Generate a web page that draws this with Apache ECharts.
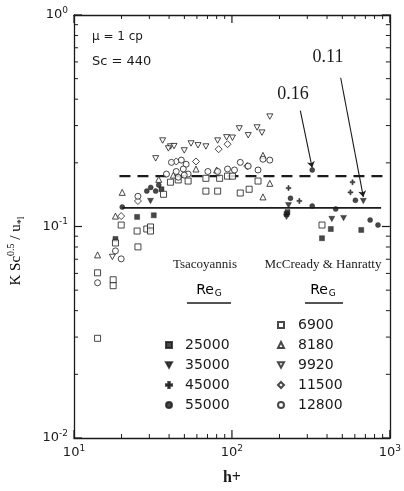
<!DOCTYPE html>
<html><head><meta charset="utf-8">
<script src="https://cdn.jsdelivr.net/npm/echarts@6/dist/echarts.min.js"></script>
<style>html,body{margin:0;padding:0;background:#fff}#c{width:404px;height:491px}</style>
</head><body><div id="c"></div>
<script>
// ---- data (h+, K Sc^0.5 / u*l) ----
const ts25000 = [[221.7,0.1145],[224.8,0.117],[371.7,0.088],[422.8,0.0973],[659,0.0963],[18.3,0.0873],[25.1,0.111],[32.0,0.113],[35.8,0.150]];
const ts35000 = [[228.2,0.126],[221.7,0.111],[428.9,0.1085],[509,0.1096],[679,0.132],[30.5,0.132]];
const ts45000 = [[228.2,0.152],[267.3,0.132],[580,0.162],[563,0.145]];
const ts55000 = [[234.8,0.136],[322.3,0.185],[322.3,0.125],[454,0.121],[605,0.133],[750,0.1073],[841,0.1016],[20.2,0.1235],[28.9,0.147],[30.6,0.153],[32.9,0.147],[34.4,0.157]];

const mh6900 = [[14.1,0.0604],[17.7,0.056],[17.7,0.0525],[14.1,0.0296],[18.3,0.0836],[19.9,0.1016],[25.1,0.0952],[28.9,0.0973],[25.4,0.0801],[30.5,0.0995],[30.5,0.0952],[36.9,0.142],[68.4,0.169],[83.6,0.169],[68.4,0.147],[81.2,0.147],[93.8,0.173],[100.8,0.173],[146.3,0.164],[112.9,0.144],[128.5,0.150],[371.7,0.1016],[45.7,0.166],[40.8,0.162],[52.8,0.164]];
const mh8180 = [[14.1,0.0734],[18.3,0.112],[20.2,0.145],[59.2,0.187],[157.2,0.217],[173.7,0.160],[157.2,0.138],[80,0.185],[34.4,0.167],[42.6,0.175]];
const mh9920 = [[17.5,0.0718],[36.4,0.255],[32.9,0.210],[40.8,0.239],[39.6,0.234],[43,0.240],[49.9,0.229],[55.1,0.247],[61.0,0.242],[68.4,0.239],[81.2,0.255],[92.5,0.264],[100.8,0.263],[111.3,0.291],[126.8,0.270],[144.2,0.294],[154.9,0.278],[173.7,0.331]];
const mh11500 = [[19.9,0.112],[25.4,0.132],[44.4,0.203],[59.2,0.203],[82.4,0.232],[125,0.193],[93.8,0.245]];
const mh12800 = [[14.1,0.0542],[18.3,0.0767],[19.9,0.0703],[25.4,0.139],[41.4,0.201],[47.8,0.206],[51.3,0.197],[49.2,0.187],[70.4,0.182],[81.2,0.182],[93.8,0.187],[103.8,0.185],[112.9,0.201],[126.8,0.193],[146.3,0.185],[157.2,0.208],[173.7,0.206],[38.5,0.177],[44.4,0.182],[52.8,0.177],[45.7,0.171],[49.9,0.175]];

const lineDashed = [[19.4,0.173],[900,0.173]];
const lineSolid = [[20.2,0.1225],[880,0.1225]];
const arrow016 = [[271,0.353],[322,0.19]];
const arrow011 = [[488,0.505],[679,0.138]];

const xRange = [10, 1000];
const yRange = [0.01, 1];
const tsNames = ['25000','35000','45000','55000'];
const mhNames = ['6900','8180','9920','11500','12800'];

// tick values: [value, isMajor]
function ticks(lo, hi){const a=[];for(let n=lo;n<hi;n++){for(let k=1;k<=9;k++)a.push([k*Math.pow(10,n),k===1?1:0]);}a.push([Math.pow(10,hi),1]);return a;}
const xTickVals = ticks(1,3), yTickVals = ticks(-2,0);
const tickData = xTickVals.map(t=>[t[0],0.1,0,t[1]]).concat(yTickVals.map(t=>[100,t[0],1,t[1]]));

const INK = '#1a1a1a';
const PLUS = 'path://M-1,-4H1V-1H4V1H1V4H-1V1H-4V-1H-1Z';
const TRI_DOWN = 'path://M0,0L2,0L1,1.8Z';
function sc(name, data, symbol, filled, size){
  return {type:'scatter', name, data, symbol, symbolSize:size, symbolKeepAspect:true,
    itemStyle: filled ? {color:INK, borderColor:INK, borderWidth:0.5} : {color:'#fff', borderColor:INK, borderWidth:1},
    z:3};
}
const pow = v => Math.round(Math.log10(v));
const labRich = {b:{fontFamily:'DejaVu Sans',fontSize:13,color:INK,lineHeight:18},
                 s:{fontFamily:'DejaVu Sans',fontSize:9,color:INK,lineHeight:10,verticalAlign:'top'}};
const baseAxis = (extra) => Object.assign({type:'log', logBase:10,
  axisLine:{show:true,lineStyle:{color:INK,width:1.3}},
  axisTick:{show:false}, splitLine:{show:false}, minorTick:{show:false}}, extra);

function renderTick(params, api){
  const v0 = api.value(0), v1 = api.value(1), kind = api.value(2), major = api.value(3);
  const len = major ? 8 : 4;
  const st = {stroke:INK, lineWidth: major ? 1.2 : 1};
  if (kind === 0) {
    const pb = api.coord([v0, yRange[0]]), pt = api.coord([v0, yRange[1]]);
    return {type:'group', children:[
      {type:'line', shape:{x1:pb[0],y1:pb[1],x2:pb[0],y2:pb[1]-len}, style:st},
      {type:'line', shape:{x1:pt[0],y1:pt[1],x2:pt[0],y2:pt[1]+len}, style:st}]};
  }
  const pl = api.coord([xRange[0], v1]), pr = api.coord([xRange[1], v1]);
  return {type:'group', children:[
    {type:'line', shape:{x1:pl[0],y1:pl[1],x2:pl[0]+len,y2:pl[1]}, style:st},
    {type:'line', shape:{x1:pr[0],y1:pr[1],x2:pr[0]-len,y2:pr[1]}, style:st}]};
}

const legText = (pad) => ({fontFamily:'DejaVu Sans',fontSize:14,lineHeight:14,color:INK,padding:[0,0,0,pad]});

const option = {
  animation:false,
  backgroundColor:'#fff',
  grid:{left:74,right:9,top:15,bottom:51},
  xAxis:[
    baseAxis({position:'bottom',min:xRange[0],max:xRange[1],
      axisLabel:{margin:6,formatter:v=>'{b|10}{s|'+pow(v)+'}',rich:labRich},
      name:'h+',nameLocation:'middle',nameGap:32,
      nameTextStyle:{fontFamily:'Liberation Serif',fontSize:16,fontWeight:'bold',color:INK}}),
    baseAxis({position:'top',min:xRange[0],max:xRange[1],axisLabel:{show:false}})
  ],
  yAxis:[
    baseAxis({position:'left',min:yRange[0],max:yRange[1],
      axisLabel:{margin:6,formatter:v=>'{b|10}{s|'+pow(v)+'}',rich:labRich}}),
    baseAxis({position:'right',min:yRange[0],max:yRange[1],axisLabel:{show:false}})
  ],
  legend:[
    {orient:'vertical',left:165,top:338,padding:0,itemWidth:6,itemHeight:6,itemGap:6,selectedMode:false,
     data:tsNames,textStyle:legText(8)},
    {orient:'vertical',left:277,top:318,padding:0,itemWidth:6,itemHeight:6,itemGap:6,selectedMode:false,
     data:mhNames,textStyle:legText(9)}
  ],
  series:[
    {type:'custom',name:'ticks',data:tickData,renderItem:renderTick,clip:false,silent:true,
     encode:{x:0,y:1},z:5},
    {type:'line',name:'dashed',data:lineDashed,symbol:'none',lineStyle:{color:INK,width:2.2,type:[11,7]},z:1,silent:true},
    {type:'line',name:'solid',data:lineSolid,symbol:'none',lineStyle:{color:INK,width:1.6},z:1,silent:true,
     markLine:{silent:true,symbol:['none','arrow'],symbolSize:6,label:{show:false},
       lineStyle:{color:INK,width:1.1,type:'solid'},
       data:[[{coord:arrow016[0]},{coord:arrow016[1]}],[{coord:arrow011[0]},{coord:arrow011[1]}]]}},
    sc('25000',ts25000,'rect',true,5),
    sc('35000',ts35000,TRI_DOWN,true,6),
    sc('45000',ts45000,PLUS,true,5),
    sc('55000',ts55000,'circle',true,5),
    sc('6900',mh6900,'rect',false,6),
    sc('8180',mh8180,'triangle',false,6),
    sc('9920',mh9920,TRI_DOWN,false,6),
    sc('11500',mh11500,'diamond',false,7),
    sc('12800',mh12800,'circle',false,6)
  ],
  graphic:[
    {type:'text',left:92,top:31,style:{text:'μ = 1 cp',fontFamily:'DejaVu Sans',fontSize:12,fill:INK}},
    {type:'text',left:92,top:55,style:{text:'Sc = 440',fontFamily:'DejaVu Sans',fontSize:13,fill:INK}},
    {type:'text',x:293,y:94,style:{text:'0.16',fontFamily:'Liberation Serif',fontSize:18,fill:INK,align:'center',verticalAlign:'middle'}},
    {type:'text',x:328,y:57,style:{text:'0.11',fontFamily:'Liberation Serif',fontSize:18,fill:INK,align:'center',verticalAlign:'middle'}},
    {type:'text',x:205,y:265,style:{text:'Tsacoyannis',fontFamily:'Liberation Serif',fontSize:13,fill:INK,align:'center',verticalAlign:'middle'}},
    {type:'text',x:323,y:265,style:{text:'McCready & Hanratty',fontFamily:'Liberation Serif',fontSize:13,fill:INK,align:'center',verticalAlign:'middle'}},
    {type:'text',x:209,y:290,style:{text:'{r|Re}{g|G}',align:'center',verticalAlign:'middle',
      rich:{r:{fontFamily:'DejaVu Sans',fontSize:14,color:INK,lineHeight:16},g:{fontFamily:'DejaVu Sans',fontSize:9,color:INK,lineHeight:16,verticalAlign:'bottom',padding:[8,0,0,1]}}}},
    {type:'text',x:323,y:290,style:{text:'{r|Re}{g|G}',align:'center',verticalAlign:'middle',
      rich:{r:{fontFamily:'DejaVu Sans',fontSize:14,color:INK,lineHeight:16},g:{fontFamily:'DejaVu Sans',fontSize:9,color:INK,lineHeight:16,verticalAlign:'bottom',padding:[8,0,0,1]}}}},
    {type:'line',shape:{x1:187,y1:303,x2:231,y2:303},style:{stroke:INK,lineWidth:1.3}},
    {type:'line',shape:{x1:305,y1:303,x2:343,y2:303},style:{stroke:INK,lineWidth:1.3}},
    {type:'text',x:16,y:251,rotation:Math.PI/2,style:{text:'{n|K Sc}{p|0.5}{n| / u}{d|*l}',align:'center',verticalAlign:'middle',
      rich:{n:{fontFamily:'Liberation Serif',fontSize:15,color:INK,lineHeight:20},
            p:{fontFamily:'Liberation Serif',fontSize:10,color:INK,lineHeight:20,verticalAlign:'top',padding:[0,0,8,0]},
            d:{fontFamily:'Liberation Serif',fontSize:10,color:INK,lineHeight:20,verticalAlign:'bottom',padding:[6,0,0,0]}}}}
  ]
};
const chart = echarts.init(document.getElementById('c'));
chart.setOption(option);
</script></body></html>
